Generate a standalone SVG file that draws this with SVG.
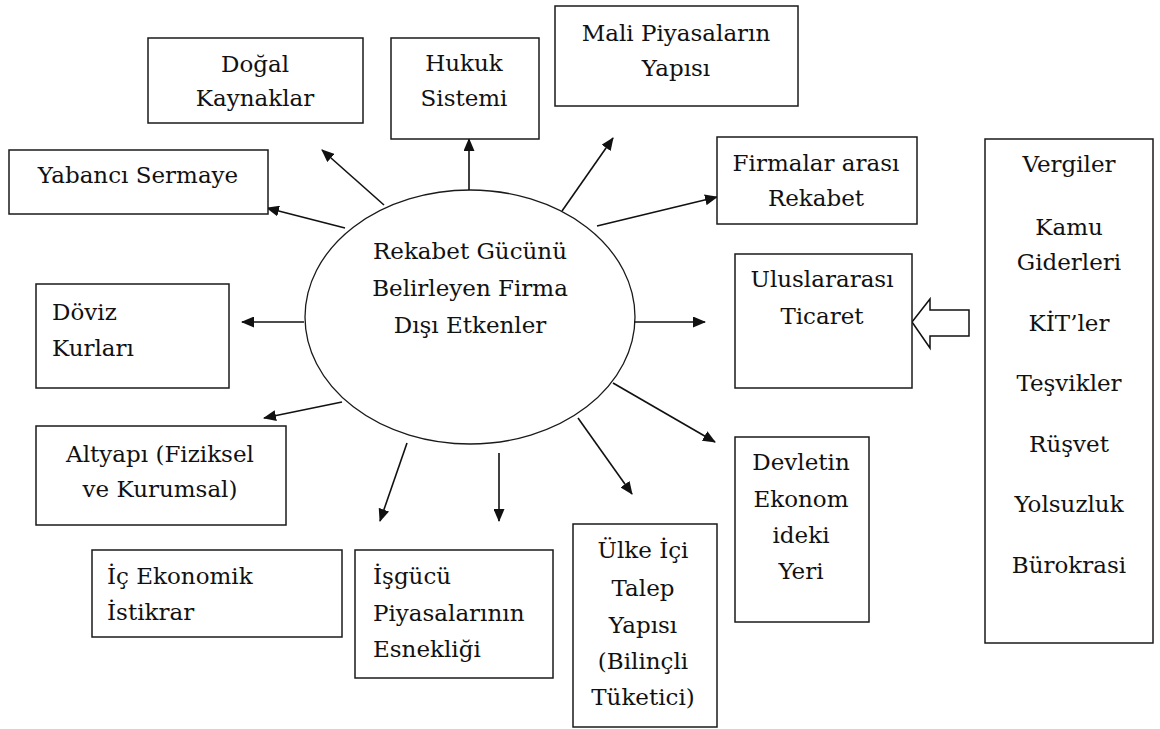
<svg xmlns="http://www.w3.org/2000/svg" width="1160" height="729" viewBox="0 0 1160 729">
  <style>
    .box { fill: #fff; stroke: #1a1a1a; stroke-width: 1.5; }
    .oval { fill: #fff; stroke: #1a1a1a; stroke-width: 1.3; }
    .t { font-family: 'DejaVu Serif', serif; font-size: 23px; fill: #111; }
    .c { text-anchor: middle; }
    .link { stroke: #111; stroke-width: 1.6; fill: none; marker-end: url(#head); }
  </style>
  <defs>
    <marker id="head" markerUnits="userSpaceOnUse" markerWidth="13" markerHeight="11" refX="12" refY="5.5" orient="auto">
      <path d="M0,0 L13,5.5 L0,11 z" fill="#111"/>
    </marker>
  </defs>
  <rect width="1160" height="729" fill="#fff"/>

  <!-- central factor -->
  <g id="center">
    <ellipse class="oval" cx="470" cy="317" rx="165" ry="127"/>
    <text class="t c" x="470" y="259">Rekabet Gücünü</text>
    <text class="t c" x="470" y="296">Belirleyen Firma</text>
    <text class="t c" x="470" y="333">Dışı Etkenler</text>
  </g>

  <!-- connectors -->
  <g id="connectors">
    <line class="link" x1="469" y1="190" x2="469" y2="139"/>
    <line class="link" x1="562" y1="211" x2="613" y2="138"/>
    <line class="link" x1="597" y1="226" x2="717" y2="197"/>
    <line class="link" x1="634" y1="322" x2="705" y2="322"/>
    <line class="link" x1="613" y1="383" x2="715" y2="442"/>
    <line class="link" x1="578" y1="418" x2="632" y2="494"/>
    <line class="link" x1="499" y1="453" x2="499" y2="521"/>
    <line class="link" x1="407" y1="443" x2="380" y2="521"/>
    <line class="link" x1="342" y1="402" x2="264" y2="418"/>
    <line class="link" x1="304" y1="322" x2="242" y2="322"/>
    <line class="link" x1="345" y1="228" x2="267" y2="208"/>
    <line class="link" x1="384" y1="205" x2="322" y2="150"/>
    <polygon points="912,322 930,299 930,310 969,310 969,336 930,336 930,348" fill="#fff" stroke="#111" stroke-width="1.5"/>
  </g>

  <g id="dogal">
    <rect class="box" x="148" y="38" width="215" height="85"/>
    <text class="t c" x="255" y="72">Doğal</text>
    <text class="t c" x="255" y="106">Kaynaklar</text>
  </g>

  <g id="hukuk">
    <rect class="box" x="391" y="38" width="148" height="101"/>
    <text class="t c" x="464" y="71">Hukuk</text>
    <text class="t c" x="464" y="106">Sistemi</text>
  </g>

  <g id="mali">
    <rect class="box" x="555" y="6" width="243" height="100"/>
    <text class="t c" x="676" y="41">Mali Piyasaların</text>
    <text class="t c" x="676" y="76">Yapısı</text>
  </g>

  <g id="yabanci">
    <rect class="box" x="9" y="150" width="259" height="64"/>
    <text class="t c" x="138" y="183">Yabancı Sermaye</text>
  </g>

  <g id="firmalar">
    <rect class="box" x="717" y="137" width="200" height="87"/>
    <text class="t c" x="816" y="171">Firmalar arası</text>
    <text class="t c" x="816" y="206">Rekabet</text>
  </g>

  <g id="uluslararasi">
    <rect class="box" x="735" y="254" width="177" height="134"/>
    <text class="t c" x="822" y="287">Uluslararası</text>
    <text class="t c" x="822" y="324">Ticaret</text>
  </g>

  <g id="devlet">
    <rect class="box" x="985" y="139" width="168" height="504"/>
    <text class="t c" x="1069" y="172">Vergiler</text>
    <text class="t c" x="1069" y="235">Kamu</text>
    <text class="t c" x="1069" y="270">Giderleri</text>
    <text class="t c" x="1069" y="331">KİT’ler</text>
    <text class="t c" x="1069" y="391">Teşvikler</text>
    <text class="t c" x="1069" y="452">Rüşvet</text>
    <text class="t c" x="1069" y="512">Yolsuzluk</text>
    <text class="t c" x="1069" y="573">Bürokrasi</text>
  </g>

  <g id="doviz">
    <rect class="box" x="36" y="284" width="193" height="104"/>
    <text class="t" x="52" y="320">Döviz</text>
    <text class="t" x="52" y="356">Kurları</text>
  </g>

  <g id="altyapi">
    <rect class="box" x="36" y="426" width="250" height="99"/>
    <text class="t c" x="160" y="462">Altyapı (Fiziksel</text>
    <text class="t c" x="160" y="497">ve Kurumsal)</text>
  </g>

  <g id="ic-ekonomik">
    <rect class="box" x="92" y="550" width="250" height="87"/>
    <text class="t" x="107" y="584">İç Ekonomik</text>
    <text class="t" x="107" y="620">İstikrar</text>
  </g>

  <g id="isgucu">
    <rect class="box" x="355" y="550" width="198" height="128"/>
    <text class="t" x="373" y="584">İşgücü</text>
    <text class="t" x="373" y="621">Piyasalarının</text>
    <text class="t" x="373" y="657">Esnekliği</text>
  </g>

  <g id="ulke-ici">
    <rect class="box" x="573" y="524" width="144" height="203"/>
    <text class="t c" x="643" y="558">Ülke İçi</text>
    <text class="t c" x="643" y="596">Talep</text>
    <text class="t c" x="643" y="633">Yapısı</text>
    <text class="t c" x="643" y="669">(Bilinçli</text>
    <text class="t c" x="643" y="705">Tüketici)</text>
  </g>

  <g id="devletin-yeri">
    <rect class="box" x="735" y="437" width="134" height="185"/>
    <text class="t c" x="801" y="470">Devletin</text>
    <text class="t c" x="801" y="507">Ekonom</text>
    <text class="t c" x="801" y="543">ideki</text>
    <text class="t c" x="801" y="579">Yeri</text>
  </g>
</svg>
